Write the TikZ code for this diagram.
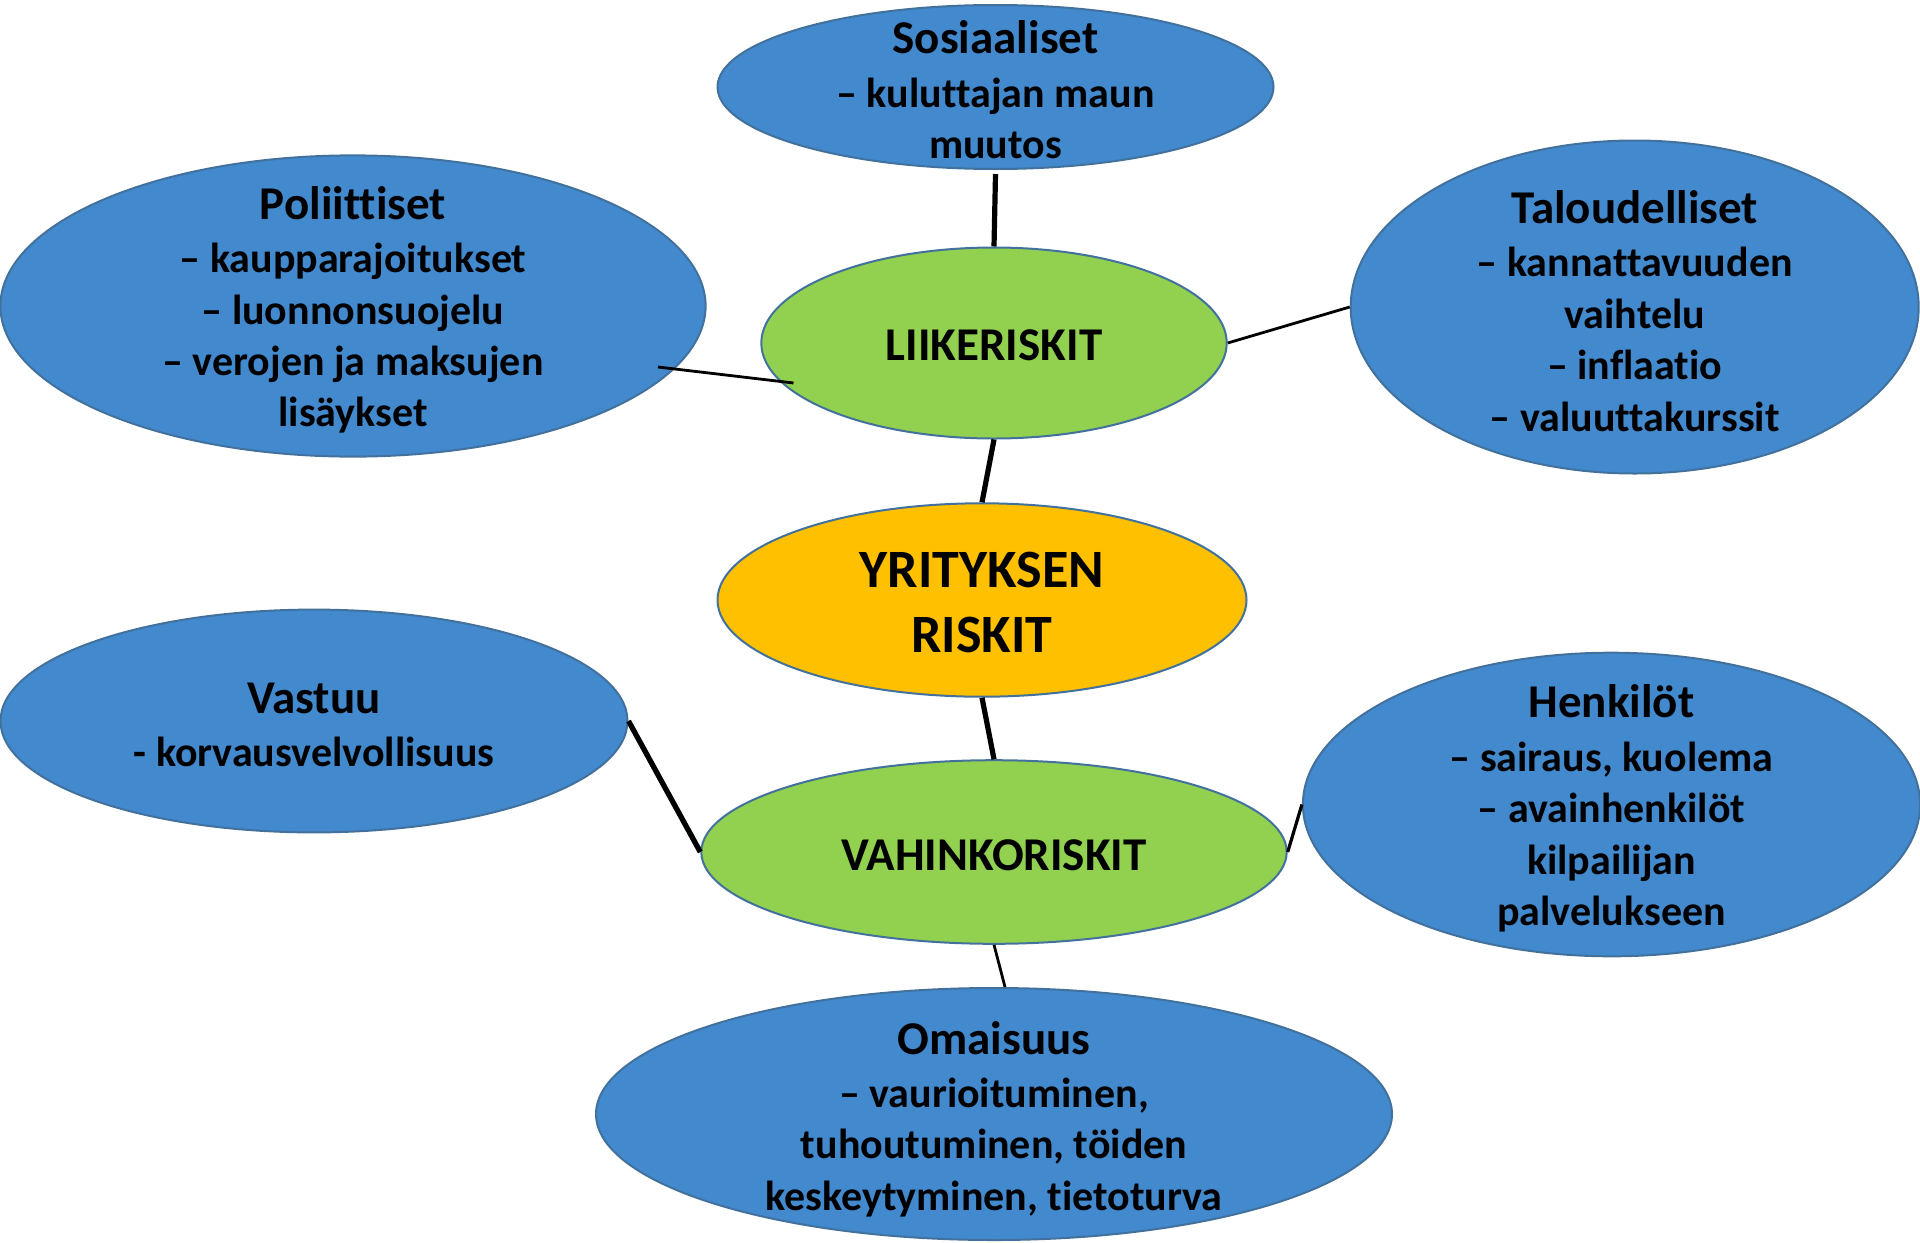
\documentclass[tikz,border=0pt]{standalone}
\usepackage{fontspec}
\setmainfont{Carlito}[Ligatures=NoCommon]
\usetikzlibrary{shapes.geometric,calc}
\definecolor{blobblue}{RGB}{66,137,206}
\definecolor{edgeblue}{RGB}{65,113,156}
\definecolor{riskgreen}{RGB}{146,208,80}
\definecolor{riskorange}{RGB}{255,192,0}
\tikzset{
  blob/.style={ellipse, draw=edgeblue, line width=1pt, inner sep=0pt},
  bluebox/.style={blob, fill=blobblue},
  greenbox/.style={blob, fill=riskgreen},
  orangebox/.style={blob, fill=riskorange},
  txt/.style={align=center, inner sep=0pt, font=\fontsize{21pt}{25.7pt}\selectfont\bfseries},
  thickcon/.style={line width=2.6pt, black},
  thincon/.style={line width=1.4pt, black},
  midcon/.style={line width=1.6pt, black},
}
\newcommand{\ttlline}[1]{{\fontsize{23.5pt}{27pt}\selectfont #1}}
\begin{document}
\begin{tikzpicture}[x=0.5pt,y=-0.5pt]
\useasboundingbox (0,0) rectangle (1920,1242);
% ellipses
\node[bluebox, minimum width=278pt, minimum height=82pt] (soc) at (995.5,87) {};
\node[bluebox, minimum width=352.6pt, minimum height=150.6pt] (pol) at (353,306) {};
\node[bluebox, minimum width=284pt, minimum height=166.5pt] (tal) at (1634.7,307) {};
\node[greenbox, minimum width=232.7pt, minimum height=95.5pt] (lii) at (994,343) {};
\node[orangebox, minimum width=264.5pt, minimum height=96.7pt] (yr) at (982,600) {};
\node[bluebox, minimum width=313.5pt, minimum height=111.4pt] (vas) at (314,721) {};
\node[bluebox, minimum width=308.6pt, minimum height=151.8pt] (hen) at (1611.5,804.5) {};
\node[greenbox, minimum width=292.7pt, minimum height=91.8pt] (vah) at (994,852) {};
\node[bluebox, minimum width=398pt, minimum height=126pt] (oma) at (994,1114) {};
% connector end points
\coordinate (polin) at ([shift={(305,61)}]pol.center);
\coordinate (liiin) at ([shift={(-200.5,40)}]lii.center);
\coordinate (omatop) at ([shift={(11,0)}]oma.north);
\coordinate (socbot) at ([shift={(0,4)}]soc.south);
% connectors
\draw[thickcon] (socbot) -- (lii.north);
\draw[thincon] (polin) -- (liiin);
\draw[thincon] (lii.east) -- (tal.west);
\draw[thickcon] (lii.south) -- (yr.north);
\draw[thickcon] (yr.south) -- (vah.north);
\draw[line width=2.6pt, black!35, shift={(3,1)}] (vas.east) -- (vah.west);
\draw[thickcon] (vas.east) -- (vah.west);
\draw[midcon] (vah.east) -- (hen.west);
\draw[thincon] (vah.south) -- (omatop);
% texts
\node[txt] (soct) at ([shift={(0,3)}]soc.center) {\ttlline{Sosiaaliset}\\[1pt] – kuluttajan maun\\ muutos};
\node[txt] (polt) at ([shift={(0,4)}]pol.center) {\ttlline{Poliittiset}\\[1pt] – kaupparajoitukset\\ – luonnonsuojelu\\ – verojen ja maksujen\\ lisäykset};
\node[txt] (talt) at ([shift={(0,4)}]tal.center) {\ttlline{Taloudelliset}\\[1pt] – kannattavuuden\\ vaihtelu\\ – inflaatio\\ – valuuttakurssit};
\node[txt, font=\fontsize{23.5pt}{27pt}\selectfont\bfseries] (liit) at ([shift={(0,2)}]lii.center) {LIIKERISKIT};
\node[txt, font=\fontsize{27pt}{32.5pt}\selectfont\bfseries] (yrt) at ([shift={(0,2)}]yr.center) {YRITYKSEN\\ RISKIT};
\node[txt] (vast) at ([shift={(0,4)}]vas.center) {\ttlline{Vastuu}\\[1pt] - korvausvelvollisuus};
\node[txt] (hent) at ([shift={(0,4)}]hen.center) {\ttlline{Henkilöt}\\[1pt] – sairaus, kuolema\\ – avainhenkilöt\\ kilpailijan\\ palvelukseen};
\node[txt, font=\fontsize{23.5pt}{27pt}\selectfont\bfseries] (vaht) at ([shift={(0,3)}]vah.center) {VAHINKORISKIT};
\node[txt] (omat) at ([shift={(0,5)}]oma.center) {\ttlline{Omaisuus}\\[1pt] – vaurioituminen,\\ tuhoutuminen, töiden\\ keskeytyminen, tietoturva};
\end{tikzpicture}
\end{document}
